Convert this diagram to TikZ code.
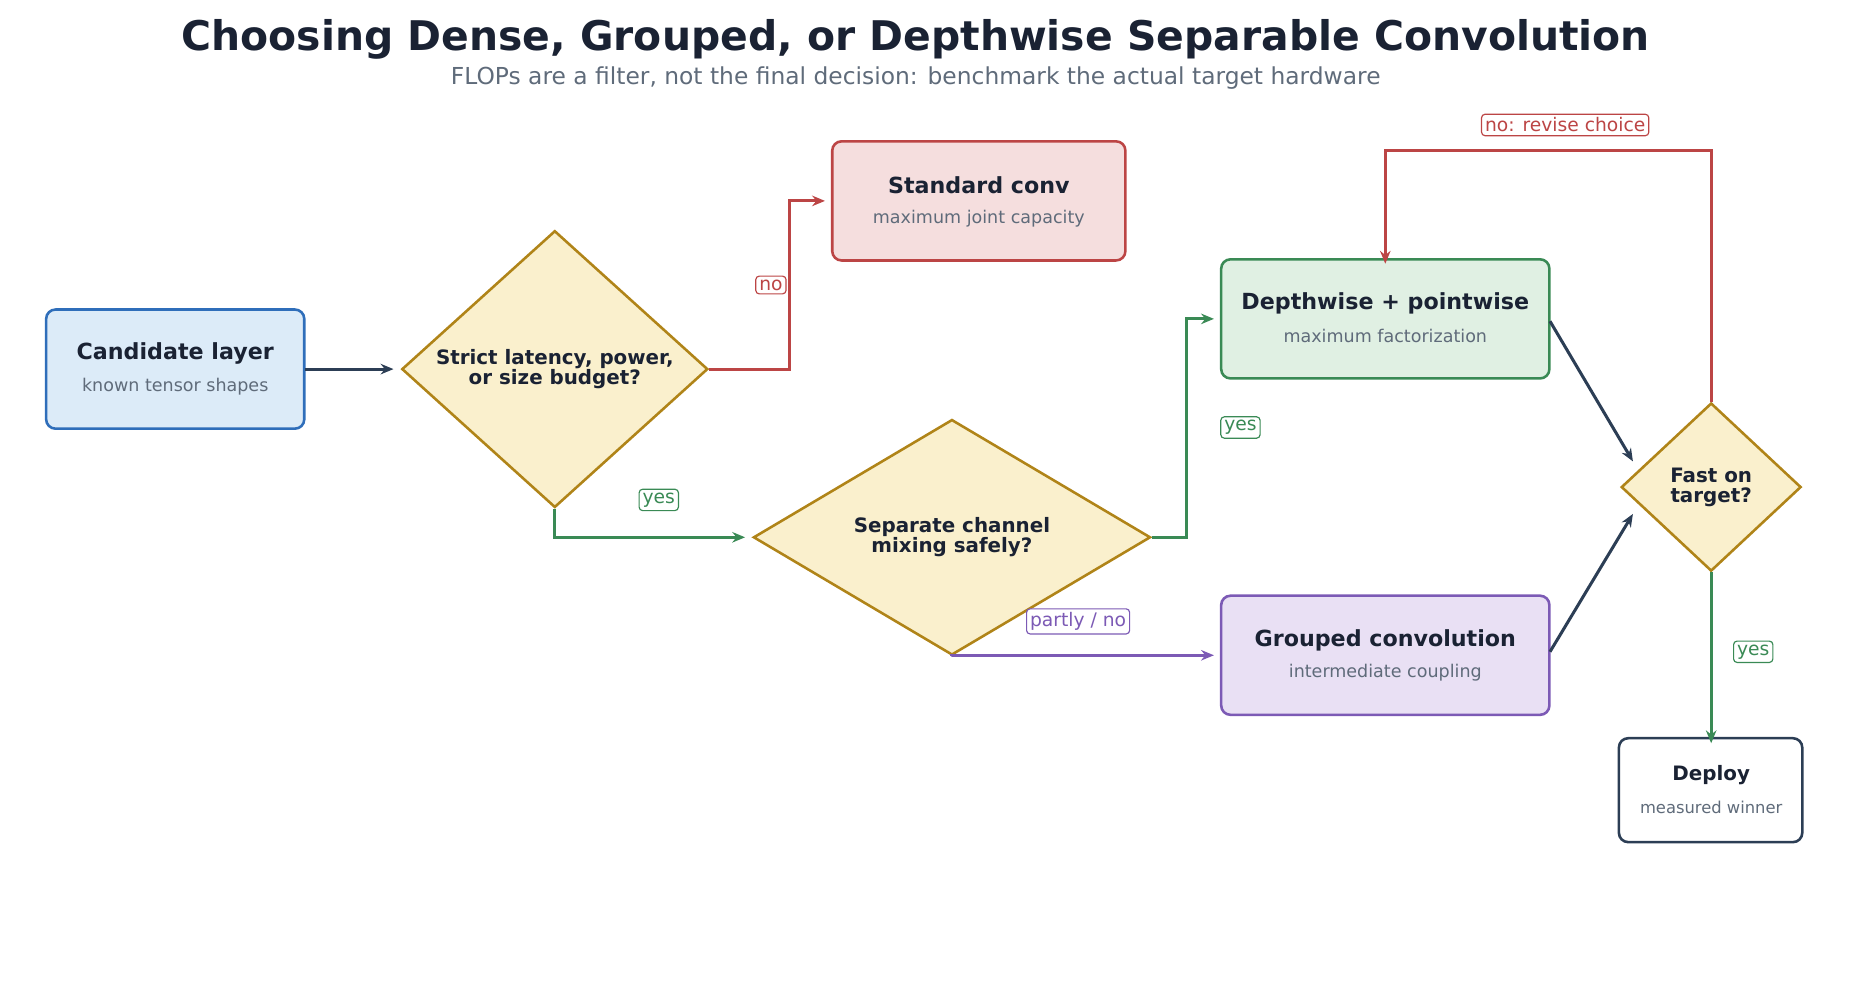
\documentclass[tikz,border=0pt]{standalone}
\usepackage{fontspec}
\setmainfont{DejaVu Sans}
\usetikzlibrary{shapes.geometric,arrows.meta}
\definecolor{txt}{HTML}{1A2233}
\definecolor{sub}{HTML}{5F6B7A}
\definecolor{dark}{HTML}{2C3E55}
\definecolor{bF}{HTML}{DCEBF8}\definecolor{bS}{HTML}{2F6EBA}
\definecolor{yF}{HTML}{FAF0CD}\definecolor{yS}{HTML}{B08418}
\definecolor{rF}{HTML}{F5DEDE}\definecolor{rS}{HTML}{BC4545}
\definecolor{gF}{HTML}{E0F0E3}\definecolor{gS}{HTML}{3A8A55}
\definecolor{pF}{HTML}{E9E0F4}\definecolor{pS}{HTML}{7C5AB5}
\begin{document}
\begin{tikzpicture}[x=1pt,y=-1pt,
 box/.style={rounded corners=8pt,line width=2.2pt,inner sep=0pt,align=center},
 dia/.style={diamond,line width=2.2pt,fill=yF,draw=yS,inner sep=0pt,text=txt,font=\fontsize{17}{17}\selectfont\bfseries,align=center},
 arr/.style={line width=2.6pt,-{Stealth[length=11pt,width=9pt]}},
 lab/.style={draw,fill=white,rounded corners=3pt,line width=1pt,inner sep=3pt,font=\fontsize{16}{16}\selectfont}]
\useasboundingbox (0,0) rectangle (1583,840);
\node (title) at (784,34) {\fontsize{35}{35}\selectfont\bfseries\color{txt}Choosing Dense, Grouped, or Depthwise Separable Convolution};
\node (subt) at (784,67) {\fontsize{20}{20}\selectfont\color{sub}FLOPs are a filter, not the final decision: benchmark the actual target hardware};
\newcommand{\bx}[7]{\draw[box,fill=#5,draw=#6] (#1-#3/2,#2-51) rectangle (#1+#3/2,#2+51);
 \node[minimum width=#3pt,minimum height=102pt] (#4) at (#1,#2) {};
 \node at (#1,#2-13) {\fontsize{19}{19}\selectfont\bfseries\color{txt}#7};}
\bx{150}{316}{221}{cand}{bF}{bS}{Candidate layer}
\node at (150,331) {\fontsize{15}{15}\selectfont\color{sub}known tensor shapes};
\bx{838}{172}{251}{std}{rF}{rS}{Standard conv}
\node at (838,187) {\fontsize{15}{15}\selectfont\color{sub}maximum joint capacity};
\bx{1186}{273}{281}{dw}{gF}{gS}{Depthwise + pointwise}
\node at (1186,288) {\fontsize{15}{15}\selectfont\color{sub}maximum factorization};
\bx{1186}{561}{281}{grp}{pF}{pS}{Grouped convolution}
\node at (1186,576) {\fontsize{15}{15}\selectfont\color{sub}intermediate coupling};
\draw[box,fill=white,draw=dark] (1386,632) rectangle (1543,721);
\node[minimum width=157pt,minimum height=89pt] (dep) at (1465,676) {};
\node at (1465,664) {\fontsize{17}{17}\selectfont\bfseries\color{txt}Deploy};
\node at (1465,691) {\fontsize{14}{14}\selectfont\color{sub}measured winner};
\node[dia,minimum width=262pt,minimum height=144pt] (d1) at (475,316) {Strict latency, power,\\or size budget?};
\node[dia,minimum width=340pt,minimum height=144pt] (d2) at (815,460) {Separate channel\\mixing safely?};
\node[dia,minimum width=154pt,minimum height=144pt] (d3) at (1465,417) {Fast on\\target?};
\draw[arr,dark] (cand.east) -- ([xshift=-6pt]d1.west);
\draw[arr,rS] (d1.east) -- (676,316) -- (676,172) -- ([xshift=-6pt]std.west);
\node[lab,draw=rS,text=rS] at (660,244) {no};
\draw[arr,gS] (d1.south) -- (475,460) -- ([xshift=-6pt]d2.west);
\node[lab,draw=gS,text=gS] at (564,428) {yes};
\draw[arr,gS] (d2.east) -- (1016,460) -- (1016,273) -- ([xshift=-6pt]dw.west);
\node[lab,draw=gS,text=gS] at (1062,366) {yes};
\draw[arr,pS] (d2.south) -- (815,561) -- ([xshift=-6pt]grp.west);
\node[lab,draw=pS,text=pS] at (923,532) {partly / no};
\draw[arr,dark] (1327,275) -- (1398,395);
\draw[arr,dark] (1327,558) -- (1398,440);
\draw[arr,gS] (d3.south) -- ([yshift=-5pt]dep.north);
\node[lab,draw=gS,text=gS] at (1501,558) {yes};
\draw[arr,rS] (d3.north) -- (1465,129) -- (1186,129) -- ([yshift=-4pt]dw.north);
\node[lab,draw=rS,text=rS] at (1340,107) {no: revise choice};
\end{tikzpicture}
\end{document}
